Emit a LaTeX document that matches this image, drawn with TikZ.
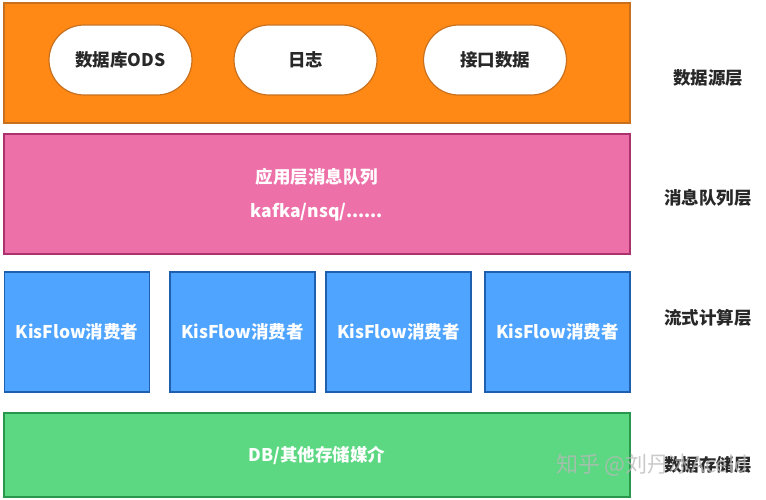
\documentclass[tikz,border=0pt]{standalone}
\usepackage{fontspec}
\setmainfont{Noto Sans CJK SC}
\newfontfamily\cjkb[BoldFont={Noto Sans CJK SC Bold}]{Noto Sans CJK SC}
\definecolor{orfill}{RGB}{255,137,20}
\definecolor{ordraw}{RGB}{200,112,30}
\definecolor{pkfill}{RGB}{238,112,168}
\definecolor{pkdraw}{RGB}{170,50,110}
\definecolor{blfill}{RGB}{78,164,255}
\definecolor{bldraw}{RGB}{30,95,175}
\definecolor{grfill}{RGB}{92,216,130}
\definecolor{grdraw}{RGB}{40,150,75}
\definecolor{txt}{RGB}{40,40,40}
\begin{document}
\begin{tikzpicture}[x=1pt,y=-1pt,
  layer/.style={draw=#1, line width=1.5pt},
  pill/.style={draw=ordraw, fill=white, line width=1.2pt, rounded corners=35pt, minimum width=143pt, minimum height=70pt, font=\bfseries\fontsize{17.5}{20}\selectfont, text=txt},
  consumer/.style={draw=bldraw, fill=blfill, line width=1.5pt, minimum width=145pt, minimum height=120pt, font=\bfseries\fontsize{17.5}{20}\selectfont, text=white, inner sep=0pt},
  wtext/.style={font=\bfseries\fontsize{17.5}{20}\selectfont, text=white},
  side/.style={font=\bfseries\fontsize{17.5}{20}\selectfont, text=txt}]
\useasboundingbox (0,0) rectangle (766,500);
\fill[white] (0,0) rectangle (766,500);
% layers
\node[layer=ordraw, fill=orfill, minimum width=626pt, minimum height=120pt, inner sep=0pt] (src) at (317,63) {};
\node[layer=pkdraw, fill=pkfill, minimum width=626pt, minimum height=120pt, inner sep=0pt] (mq) at (317,194) {};
\node[layer=grdraw, fill=grfill, minimum width=626pt, minimum height=84pt, inner sep=0pt] (db) at (317,455) {};
% sources
\node[pill] (ods) at (120.5,60) {数据库ODS};
\node[pill] (log) at (305.5,60) {日志};
\node[pill] (api) at (495,60) {接口数据};
% mq text
\node[wtext] (mq1) at (317,177) {应用层消息队列};
\node[wtext] (mq2) at (317,212) {kafka/nsq/......};
% consumers
\node[consumer] (c1) at (77,332) {KisFlow消费者};
\node[consumer] (c2) at (242.5,332) {KisFlow消费者};
\node[consumer] (c3) at (398.5,332) {KisFlow消费者};
\node[consumer] (c4) at (557.5,332) {KisFlow消费者};
% db text
\node[wtext] (dbt) at (317,455) {DB/其他存储媒介};
% side labels
\node[side] (l1) at (708,78) {数据源层};
\node[side] (l2) at (708,198) {消息队列层};
\node[side] (l3) at (708,318) {流式计算层};
\node[side] (l4) at (708,465) {数据存储层};
% watermark
\node[font=\fontsize{22}{24}\selectfont, text=gray!55, opacity=0.75] (wm) at (652,465) {知乎 @刘丹冰Aceld};
\end{tikzpicture}
\end{document}
